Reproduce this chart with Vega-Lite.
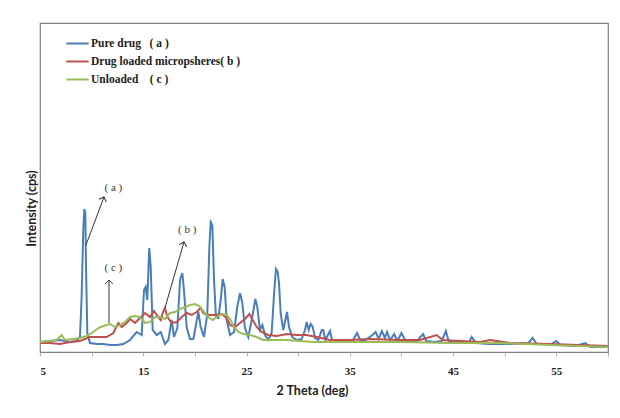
{
  "$schema": "https://vega.github.io/schema/vega-lite/v6.json",
  "width": 568,
  "height": 329,
  "autosize": {"type": "none"},
  "padding": {"left": 40, "top": 23, "right": 12, "bottom": 66},
  "background": "white",
  "config": {
    "view": {"stroke": "#808080", "strokeWidth": 1.2},
    "font": "Liberation Serif"
  },
  "datasets": {
    "xrd": [
      {"series": "Pure drug", "theta": 5.0, "intensity": 10},
      {"series": "Pure drug", "theta": 5.97, "intensity": 11},
      {"series": "Pure drug", "theta": 6.94, "intensity": 12},
      {"series": "Pure drug", "theta": 7.91, "intensity": 10},
      {"series": "Pure drug", "theta": 8.55, "intensity": 11},
      {"series": "Pure drug", "theta": 8.87, "intensity": 15},
      {"series": "Pure drug", "theta": 9.03, "intensity": 55},
      {"series": "Pure drug", "theta": 9.19, "intensity": 122},
      {"series": "Pure drug", "theta": 9.29, "intensity": 143},
      {"series": "Pure drug", "theta": 9.39, "intensity": 139},
      {"series": "Pure drug", "theta": 9.45, "intensity": 89},
      {"series": "Pure drug", "theta": 9.58, "intensity": 19},
      {"series": "Pure drug", "theta": 9.84, "intensity": 9},
      {"series": "Pure drug", "theta": 10.49, "intensity": 8},
      {"series": "Pure drug", "theta": 11.13, "intensity": 8},
      {"series": "Pure drug", "theta": 11.78, "intensity": 7},
      {"series": "Pure drug", "theta": 12.43, "intensity": 7},
      {"series": "Pure drug", "theta": 13.07, "intensity": 8},
      {"series": "Pure drug", "theta": 13.72, "intensity": 12},
      {"series": "Pure drug", "theta": 14.36, "intensity": 20},
      {"series": "Pure drug", "theta": 14.85, "intensity": 17},
      {"series": "Pure drug", "theta": 15.07, "intensity": 62},
      {"series": "Pure drug", "theta": 15.23, "intensity": 65},
      {"series": "Pure drug", "theta": 15.39, "intensity": 52},
      {"series": "Pure drug", "theta": 15.58, "intensity": 104},
      {"series": "Pure drug", "theta": 15.72, "intensity": 85},
      {"series": "Pure drug", "theta": 15.91, "intensity": 22},
      {"series": "Pure drug", "theta": 16.3, "intensity": 17},
      {"series": "Pure drug", "theta": 16.69, "intensity": 20},
      {"series": "Pure drug", "theta": 17.1, "intensity": 8},
      {"series": "Pure drug", "theta": 17.43, "intensity": 12},
      {"series": "Pure drug", "theta": 17.75, "intensity": 32},
      {"series": "Pure drug", "theta": 17.97, "intensity": 15},
      {"series": "Pure drug", "theta": 18.3, "intensity": 24},
      {"series": "Pure drug", "theta": 18.56, "intensity": 72},
      {"series": "Pure drug", "theta": 18.78, "intensity": 79},
      {"series": "Pure drug", "theta": 18.94, "intensity": 62},
      {"series": "Pure drug", "theta": 19.2, "intensity": 25},
      {"series": "Pure drug", "theta": 19.52, "intensity": 13},
      {"series": "Pure drug", "theta": 19.85, "intensity": 13},
      {"series": "Pure drug", "theta": 20.1, "intensity": 27},
      {"series": "Pure drug", "theta": 20.33, "intensity": 40},
      {"series": "Pure drug", "theta": 20.56, "intensity": 25},
      {"series": "Pure drug", "theta": 20.88, "intensity": 15},
      {"series": "Pure drug", "theta": 21.2, "intensity": 38},
      {"series": "Pure drug", "theta": 21.4, "intensity": 105},
      {"series": "Pure drug", "theta": 21.53, "intensity": 130},
      {"series": "Pure drug", "theta": 21.69, "intensity": 127},
      {"series": "Pure drug", "theta": 21.85, "intensity": 72},
      {"series": "Pure drug", "theta": 22.04, "intensity": 35},
      {"series": "Pure drug", "theta": 22.27, "intensity": 34},
      {"series": "Pure drug", "theta": 22.5, "intensity": 52},
      {"series": "Pure drug", "theta": 22.69, "intensity": 73},
      {"series": "Pure drug", "theta": 22.88, "intensity": 65},
      {"series": "Pure drug", "theta": 23.08, "intensity": 32},
      {"series": "Pure drug", "theta": 23.4, "intensity": 17},
      {"series": "Pure drug", "theta": 23.79, "intensity": 20},
      {"series": "Pure drug", "theta": 24.1, "intensity": 45},
      {"series": "Pure drug", "theta": 24.37, "intensity": 59},
      {"series": "Pure drug", "theta": 24.59, "intensity": 49},
      {"series": "Pure drug", "theta": 24.85, "intensity": 24},
      {"series": "Pure drug", "theta": 25.17, "intensity": 15},
      {"series": "Pure drug", "theta": 25.5, "intensity": 32},
      {"series": "Pure drug", "theta": 25.85, "intensity": 53},
      {"series": "Pure drug", "theta": 26.04, "intensity": 45},
      {"series": "Pure drug", "theta": 26.3, "intensity": 22},
      {"series": "Pure drug", "theta": 26.53, "intensity": 27},
      {"series": "Pure drug", "theta": 26.79, "intensity": 17},
      {"series": "Pure drug", "theta": 27.1, "intensity": 12},
      {"series": "Pure drug", "theta": 27.43, "intensity": 19},
      {"series": "Pure drug", "theta": 27.69, "intensity": 62},
      {"series": "Pure drug", "theta": 27.85, "intensity": 83},
      {"series": "Pure drug", "theta": 28.02, "intensity": 80},
      {"series": "Pure drug", "theta": 28.14, "intensity": 69},
      {"series": "Pure drug", "theta": 28.31, "intensity": 38},
      {"series": "Pure drug", "theta": 28.56, "intensity": 22},
      {"series": "Pure drug", "theta": 28.76, "intensity": 32},
      {"series": "Pure drug", "theta": 28.92, "intensity": 40},
      {"series": "Pure drug", "theta": 29.11, "intensity": 25},
      {"series": "Pure drug", "theta": 29.43, "intensity": 15},
      {"series": "Pure drug", "theta": 29.86, "intensity": 12},
      {"series": "Pure drug", "theta": 30.34, "intensity": 13},
      {"series": "Pure drug", "theta": 30.66, "intensity": 22},
      {"series": "Pure drug", "theta": 30.82, "intensity": 30},
      {"series": "Pure drug", "theta": 31.02, "intensity": 22},
      {"series": "Pure drug", "theta": 31.21, "intensity": 28},
      {"series": "Pure drug", "theta": 31.41, "intensity": 25},
      {"series": "Pure drug", "theta": 31.63, "intensity": 14},
      {"series": "Pure drug", "theta": 31.95, "intensity": 12},
      {"series": "Pure drug", "theta": 32.28, "intensity": 22},
      {"series": "Pure drug", "theta": 32.43, "intensity": 22},
      {"series": "Pure drug", "theta": 32.63, "intensity": 12},
      {"series": "Pure drug", "theta": 33.08, "intensity": 21},
      {"series": "Pure drug", "theta": 33.3, "intensity": 11},
      {"series": "Pure drug", "theta": 34.2, "intensity": 11},
      {"series": "Pure drug", "theta": 35.2, "intensity": 10},
      {"series": "Pure drug", "theta": 35.7, "intensity": 19},
      {"series": "Pure drug", "theta": 36.0, "intensity": 12},
      {"series": "Pure drug", "theta": 36.5, "intensity": 12},
      {"series": "Pure drug", "theta": 37.2, "intensity": 17},
      {"series": "Pure drug", "theta": 37.5, "intensity": 20},
      {"series": "Pure drug", "theta": 37.8, "intensity": 13},
      {"series": "Pure drug", "theta": 38.1, "intensity": 21},
      {"series": "Pure drug", "theta": 38.4, "intensity": 14},
      {"series": "Pure drug", "theta": 38.6, "intensity": 20},
      {"series": "Pure drug", "theta": 38.9, "intensity": 12},
      {"series": "Pure drug", "theta": 39.3, "intensity": 18},
      {"series": "Pure drug", "theta": 39.6, "intensity": 11},
      {"series": "Pure drug", "theta": 40.0, "intensity": 19},
      {"series": "Pure drug", "theta": 40.4, "intensity": 11},
      {"series": "Pure drug", "theta": 41.5, "intensity": 11},
      {"series": "Pure drug", "theta": 42.1, "intensity": 18},
      {"series": "Pure drug", "theta": 42.4, "intensity": 11},
      {"series": "Pure drug", "theta": 43.2, "intensity": 10},
      {"series": "Pure drug", "theta": 43.9, "intensity": 11},
      {"series": "Pure drug", "theta": 44.3, "intensity": 21},
      {"series": "Pure drug", "theta": 44.6, "intensity": 10},
      {"series": "Pure drug", "theta": 45.5, "intensity": 10},
      {"series": "Pure drug", "theta": 46.5, "intensity": 9},
      {"series": "Pure drug", "theta": 46.8, "intensity": 15},
      {"series": "Pure drug", "theta": 47.2, "intensity": 9},
      {"series": "Pure drug", "theta": 48.5, "intensity": 8},
      {"series": "Pure drug", "theta": 50.5, "intensity": 8},
      {"series": "Pure drug", "theta": 52.3, "intensity": 9},
      {"series": "Pure drug", "theta": 52.7, "intensity": 14},
      {"series": "Pure drug", "theta": 53.1, "intensity": 8},
      {"series": "Pure drug", "theta": 54.5, "intensity": 8},
      {"series": "Pure drug", "theta": 55.0, "intensity": 11},
      {"series": "Pure drug", "theta": 55.4, "intensity": 7},
      {"series": "Pure drug", "theta": 56.8, "intensity": 6},
      {"series": "Pure drug", "theta": 57.8, "intensity": 9},
      {"series": "Pure drug", "theta": 58.3, "intensity": 5},
      {"series": "Pure drug", "theta": 60.0, "intensity": 5},

      {"series": "Drug loaded micropsheres", "theta": 5.0, "intensity": 9},
      {"series": "Drug loaded micropsheres", "theta": 5.97, "intensity": 9},
      {"series": "Drug loaded micropsheres", "theta": 6.94, "intensity": 8},
      {"series": "Drug loaded micropsheres", "theta": 7.91, "intensity": 10},
      {"series": "Drug loaded micropsheres", "theta": 8.87, "intensity": 11},
      {"series": "Drug loaded micropsheres", "theta": 9.84, "intensity": 15},
      {"series": "Drug loaded micropsheres", "theta": 10.81, "intensity": 15},
      {"series": "Drug loaded micropsheres", "theta": 11.46, "intensity": 15},
      {"series": "Drug loaded micropsheres", "theta": 12.1, "intensity": 19},
      {"series": "Drug loaded micropsheres", "theta": 12.58, "intensity": 29},
      {"series": "Drug loaded micropsheres", "theta": 12.91, "intensity": 25},
      {"series": "Drug loaded micropsheres", "theta": 13.39, "intensity": 29},
      {"series": "Drug loaded micropsheres", "theta": 13.72, "intensity": 33},
      {"series": "Drug loaded micropsheres", "theta": 14.2, "intensity": 29},
      {"series": "Drug loaded micropsheres", "theta": 14.68, "intensity": 34},
      {"series": "Drug loaded micropsheres", "theta": 15.17, "intensity": 39},
      {"series": "Drug loaded micropsheres", "theta": 15.65, "intensity": 35},
      {"series": "Drug loaded micropsheres", "theta": 16.04, "intensity": 41},
      {"series": "Drug loaded micropsheres", "theta": 16.3, "intensity": 37},
      {"series": "Drug loaded micropsheres", "theta": 16.69, "intensity": 32},
      {"series": "Drug loaded micropsheres", "theta": 16.88, "intensity": 39},
      {"series": "Drug loaded micropsheres", "theta": 17.1, "intensity": 44},
      {"series": "Drug loaded micropsheres", "theta": 17.33, "intensity": 35},
      {"series": "Drug loaded micropsheres", "theta": 17.75, "intensity": 29},
      {"series": "Drug loaded micropsheres", "theta": 18.24, "intensity": 30},
      {"series": "Drug loaded micropsheres", "theta": 18.72, "intensity": 35},
      {"series": "Drug loaded micropsheres", "theta": 19.2, "intensity": 39},
      {"series": "Drug loaded micropsheres", "theta": 19.69, "intensity": 37},
      {"series": "Drug loaded micropsheres", "theta": 20.17, "intensity": 40},
      {"series": "Drug loaded micropsheres", "theta": 20.56, "intensity": 44},
      {"series": "Drug loaded micropsheres", "theta": 20.81, "intensity": 39},
      {"series": "Drug loaded micropsheres", "theta": 21.14, "intensity": 37},
      {"series": "Drug loaded micropsheres", "theta": 21.62, "intensity": 37},
      {"series": "Drug loaded micropsheres", "theta": 22.1, "intensity": 37},
      {"series": "Drug loaded micropsheres", "theta": 22.59, "intensity": 38},
      {"series": "Drug loaded micropsheres", "theta": 23.07, "intensity": 34},
      {"series": "Drug loaded micropsheres", "theta": 23.4, "intensity": 27},
      {"series": "Drug loaded micropsheres", "theta": 23.88, "intensity": 25},
      {"series": "Drug loaded micropsheres", "theta": 24.37, "intensity": 29},
      {"series": "Drug loaded micropsheres", "theta": 24.85, "intensity": 33},
      {"series": "Drug loaded micropsheres", "theta": 25.27, "intensity": 38},
      {"series": "Drug loaded micropsheres", "theta": 25.6, "intensity": 32},
      {"series": "Drug loaded micropsheres", "theta": 25.98, "intensity": 25},
      {"series": "Drug loaded micropsheres", "theta": 26.46, "intensity": 20},
      {"series": "Drug loaded micropsheres", "theta": 27.1, "intensity": 17},
      {"series": "Drug loaded micropsheres", "theta": 27.92, "intensity": 16},
      {"series": "Drug loaded micropsheres", "theta": 28.89, "intensity": 18},
      {"series": "Drug loaded micropsheres", "theta": 29.86, "intensity": 17},
      {"series": "Drug loaded micropsheres", "theta": 30.82, "intensity": 17},
      {"series": "Drug loaded micropsheres", "theta": 31.8, "intensity": 15},
      {"series": "Drug loaded micropsheres", "theta": 33.08, "intensity": 12},
      {"series": "Drug loaded micropsheres", "theta": 35.0, "intensity": 12},
      {"series": "Drug loaded micropsheres", "theta": 37.0, "intensity": 13},
      {"series": "Drug loaded micropsheres", "theta": 39.9, "intensity": 12},
      {"series": "Drug loaded micropsheres", "theta": 41.8, "intensity": 12},
      {"series": "Drug loaded micropsheres", "theta": 43.4, "intensity": 17},
      {"series": "Drug loaded micropsheres", "theta": 44.0, "intensity": 12},
      {"series": "Drug loaded micropsheres", "theta": 45.7, "intensity": 11},
      {"series": "Drug loaded micropsheres", "theta": 47.6, "intensity": 10},
      {"series": "Drug loaded micropsheres", "theta": 48.6, "intensity": 12},
      {"series": "Drug loaded micropsheres", "theta": 50.5, "intensity": 9},
      {"series": "Drug loaded micropsheres", "theta": 54.4, "intensity": 8},
      {"series": "Drug loaded micropsheres", "theta": 60.0, "intensity": 6},

      {"series": "Unloaded", "theta": 5.0, "intensity": 10},
      {"series": "Unloaded", "theta": 5.97, "intensity": 11},
      {"series": "Unloaded", "theta": 6.62, "intensity": 12},
      {"series": "Unloaded", "theta": 7.1, "intensity": 17},
      {"series": "Unloaded", "theta": 7.42, "intensity": 12},
      {"series": "Unloaded", "theta": 8.23, "intensity": 13},
      {"series": "Unloaded", "theta": 8.87, "intensity": 14},
      {"series": "Unloaded", "theta": 9.52, "intensity": 16},
      {"series": "Unloaded", "theta": 10.16, "intensity": 20},
      {"series": "Unloaded", "theta": 10.65, "intensity": 24},
      {"series": "Unloaded", "theta": 11.13, "intensity": 26},
      {"series": "Unloaded", "theta": 11.78, "intensity": 28},
      {"series": "Unloaded", "theta": 12.26, "intensity": 25},
      {"series": "Unloaded", "theta": 12.75, "intensity": 27},
      {"series": "Unloaded", "theta": 13.23, "intensity": 30},
      {"series": "Unloaded", "theta": 13.72, "intensity": 35},
      {"series": "Unloaded", "theta": 14.2, "intensity": 36},
      {"series": "Unloaded", "theta": 14.68, "intensity": 35},
      {"series": "Unloaded", "theta": 15.17, "intensity": 29},
      {"series": "Unloaded", "theta": 15.65, "intensity": 30},
      {"series": "Unloaded", "theta": 16.14, "intensity": 35},
      {"series": "Unloaded", "theta": 16.62, "intensity": 35},
      {"series": "Unloaded", "theta": 17.1, "intensity": 33},
      {"series": "Unloaded", "theta": 17.59, "intensity": 39},
      {"series": "Unloaded", "theta": 18.07, "intensity": 40},
      {"series": "Unloaded", "theta": 18.56, "intensity": 43},
      {"series": "Unloaded", "theta": 19.04, "intensity": 45},
      {"series": "Unloaded", "theta": 19.52, "intensity": 47},
      {"series": "Unloaded", "theta": 20.01, "intensity": 48},
      {"series": "Unloaded", "theta": 20.43, "intensity": 46},
      {"series": "Unloaded", "theta": 20.81, "intensity": 41},
      {"series": "Unloaded", "theta": 21.3, "intensity": 35},
      {"series": "Unloaded", "theta": 21.72, "intensity": 32},
      {"series": "Unloaded", "theta": 22.1, "intensity": 35},
      {"series": "Unloaded", "theta": 22.59, "intensity": 38},
      {"series": "Unloaded", "theta": 23.07, "intensity": 37},
      {"series": "Unloaded", "theta": 23.4, "intensity": 33},
      {"series": "Unloaded", "theta": 23.79, "intensity": 25},
      {"series": "Unloaded", "theta": 24.2, "intensity": 20},
      {"series": "Unloaded", "theta": 24.69, "intensity": 18},
      {"series": "Unloaded", "theta": 25.34, "intensity": 17},
      {"series": "Unloaded", "theta": 25.98, "intensity": 15},
      {"series": "Unloaded", "theta": 26.62, "intensity": 12},
      {"series": "Unloaded", "theta": 27.59, "intensity": 12},
      {"series": "Unloaded", "theta": 28.89, "intensity": 12},
      {"series": "Unloaded", "theta": 30.18, "intensity": 11},
      {"series": "Unloaded", "theta": 31.47, "intensity": 10},
      {"series": "Unloaded", "theta": 33.08, "intensity": 10},
      {"series": "Unloaded", "theta": 36.0, "intensity": 10},
      {"series": "Unloaded", "theta": 39.9, "intensity": 10},
      {"series": "Unloaded", "theta": 44.7, "intensity": 9},
      {"series": "Unloaded", "theta": 49.5, "intensity": 9},
      {"series": "Unloaded", "theta": 54.4, "intensity": 7},
      {"series": "Unloaded", "theta": 60.0, "intensity": 5}
    ],
    "arrows": [
      {"label": "a", "theta": 9.45, "intensity": 107, "theta2": 11.2, "intensity2": 155},
      {"label": "b", "theta": 17.1, "intensity": 44, "theta2": 18.94, "intensity2": 110},
      {"label": "c", "theta": 11.68, "intensity": 29, "theta2": 11.68, "intensity2": 72}
    ],
    "notes": [
      {"text": "( a )", "theta": 12.1, "intensity": 164},
      {"text": "( b )", "theta": 19.25, "intensity": 122},
      {"text": "( c )", "theta": 12.1, "intensity": 84}
    ]
  },
  "layer": [
    {
      "data": {"name": "xrd"},
      "mark": {"type": "line", "strokeWidth": 2, "interpolate": "linear"},
      "encoding": {
        "x": {
          "field": "theta", "type": "quantitative",
          "scale": {"domain": [5, 60], "nice": false, "zero": false},
          "axis": {
            "title": "2 Theta (deg)",
            "values": [5, 10, 15, 20, 25, 30, 35, 40, 45, 50, 55, 60],
            "labelExpr": "datum.value % 10 == 5 ? datum.label : ''",
            "grid": false,
            "domain": false,
            "tickColor": "#b0b0b0",
            "tickSize": 4,
            "labelPadding": 9,
            "labelFont": "Liberation Serif",
            "labelFontWeight": "bold",
            "labelFontSize": 11,
            "labelColor": "#222",
            "titleFont": "Lato",
            "titleFontWeight": "bold",
            "titleFontSize": 12.5,
            "titleColor": "#222",
            "titleX": 272,
            "titlePadding": 8
          }
        },
        "y": {
          "field": "intensity", "type": "quantitative",
          "scale": {"domain": [0, 329], "nice": false},
          "axis": {
            "title": "Intensity (cps)",
            "labels": false, "ticks": false, "domain": false, "grid": false,
            "titleFont": "Lato",
            "titleFontWeight": "bold",
            "titleFontSize": 12.5,
            "titleColor": "#222",
            "titleAngle": -90,
            "titleAlign": "center",
            "titleBaseline": "middle",
            "titleX": -9,
            "titleY": 185
          }
        },
        "color": {
          "field": "series", "type": "nominal",
          "scale": {
            "domain": ["Pure drug", "Drug loaded micropsheres", "Unloaded"],
            "range": ["#4a7ebb", "#c0504d", "#9bbb59"]
          },
          "legend": {
            "title": null,
            "orient": "none",
            "legendX": 25,
            "legendY": 8,
            "symbolType": "stroke",
            "symbolStrokeWidth": 2,
            "symbolSize": 500,
            "labelFont": "Liberation Serif",
            "labelFontWeight": "bold",
            "labelFontSize": 11.5,
            "labelColor": "#222",
            "rowPadding": -9,
            "labelOffset": 1,
            "labelExpr": "datum.label == 'Pure drug' ? 'Pure drug\u00a0\u00a0\u00a0( a )' : datum.label == 'Unloaded' ? 'Unloaded\u00a0\u00a0\u00a0\u00a0( c )' : datum.label + '( b )'"
          }
        },
        "order": {"field": "theta", "type": "quantitative"}
      }
    },
    {
      "data": {"name": "arrows"},
      "mark": {"type": "rule", "color": "#333", "strokeWidth": 1},
      "encoding": {
        "x": {"field": "theta", "type": "quantitative"},
        "y": {"field": "intensity", "type": "quantitative"},
        "x2": {"field": "theta2"},
        "y2": {"field": "intensity2"}
      }
    },
    {
      "data": {"name": "arrows"},
      "transform": [{"filter": "datum.label == 'a'"}],
      "mark": {"type": "point", "shape": "M -1 1 L 0 0 L 1 1", "filled": false, "stroke": "#333", "strokeWidth": 1, "size": 60, "angle": 21, "opacity": 1},
      "encoding": {
        "x": {"field": "theta2", "type": "quantitative"},
        "y": {"field": "intensity2", "type": "quantitative"}
      }
    },
    {
      "data": {"name": "arrows"},
      "transform": [{"filter": "datum.label == 'b'"}],
      "mark": {"type": "point", "shape": "M -1 1 L 0 0 L 1 1", "filled": false, "stroke": "#333", "strokeWidth": 1, "size": 60, "angle": 16, "opacity": 1},
      "encoding": {
        "x": {"field": "theta2", "type": "quantitative"},
        "y": {"field": "intensity2", "type": "quantitative"}
      }
    },
    {
      "data": {"name": "arrows"},
      "transform": [{"filter": "datum.label == 'c'"}],
      "mark": {"type": "point", "shape": "M -1 1 L 0 0 L 1 1", "filled": false, "stroke": "#333", "strokeWidth": 1, "size": 60, "angle": 0, "opacity": 1},
      "encoding": {
        "x": {"field": "theta2", "type": "quantitative"},
        "y": {"field": "intensity2", "type": "quantitative"}
      }
    },
    {
      "data": {"name": "notes"},
      "mark": {"type": "text", "font": "Liberation Serif", "fontSize": 11, "fontWeight": "normal", "color": "#333"},
      "encoding": {
        "x": {"field": "theta", "type": "quantitative"},
        "y": {"field": "intensity", "type": "quantitative"},
        "text": {"field": "text"}
      }
    }
  ]
}
